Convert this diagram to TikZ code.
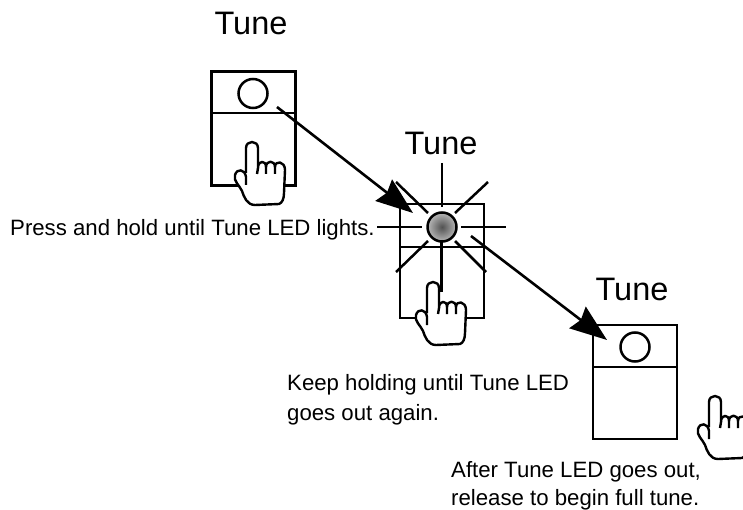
\documentclass[tikz,border=0pt]{standalone}
\usepackage{fontspec}
\setmainfont{Liberation Sans}
\usetikzlibrary{arrows.meta}
\tikzset{
  btn/.style={draw=black,line width=2.5pt,minimum width=84pt,minimum height=114pt,inner sep=0pt,outer sep=0pt},
  led/.style={circle,draw=black,line width=2.5pt,minimum size=29pt,inner sep=0pt,outer sep=0pt},
  divider/.style={line width=2.5pt,black},
  ray/.style={line width=2.5pt,black},
  handline/.style={line width=2.4pt,black,line join=round},
  flow/.style={line width=2.6pt,black,-{Stealth[length=37pt,width=27pt,inset=4pt]}},
  title/.style={font=\fontsize{32.5}{32.5}\selectfont,anchor=base,inner sep=0pt,text=black},
  note/.style={font=\fontsize{22.2}{22.2}\selectfont,anchor=base west,inner sep=0pt,text=black},
}
\newcommand{\handshape}[1]{%
\begin{scope}[shift={#1}]
\filldraw[handline,fill=white]
  (-6,30) -- (-6,5) .. controls (-6,-3) and (6,-3) .. (6,5) -- (6,25)
  .. controls (6,17) and (14,17) .. (14,24)
  .. controls (14,17) and (23,17) .. (23,24)
  .. controls (23,17) and (33,18) .. (33,27)
  -- (32,50) .. controls (32,56) and (30,60) .. (27,61)
  -- (3,62) .. controls (-5,62) and (-8,54) .. (-10,48)
  .. controls (-12,43) and (-19,38) .. (-17,32)
  .. controls (-15,25) and (-7,26) .. (-6,34) -- (-6,42);
\draw[handline] (6,25) -- (5,31) (14,24) -- (14,31) (23,24) -- (23,31);
\end{scope}}
\begin{document}
\begin{tikzpicture}[x=1pt,y=-1pt]
\useasboundingbox (0,0) rectangle (743,510);
\clip (0,0) rectangle (743,510);

\node[title] (t1) at (251,35) {Tune};
\node[title] (t2) at (441,154.5) {Tune};
\node[title] (t3) at (632,300) {Tune};

\node[btn] (b1) at (253.5,128.5) {};
\node[btn] (b2) at (442,261) {};
\node[btn] (b3) at (635,382) {};
\coordinate (d1l) at (211.5,113); \coordinate (d1r) at (295.5,113);
\coordinate (d2l) at (400,247);   \coordinate (d2r) at (484,247);
\coordinate (d3l) at (593,367);   \coordinate (d3r) at (677,367);
\draw[divider] (d1l) -- (d1r);
\draw[divider] (d2l) -- (d2r);
\draw[divider] (d3l) -- (d3r);

\node[led,fill=white] (l1) at (253,93.5) {};
\node[led,inner color=black!68,outer color=black!28] (l2) at (442,227) {};
\node[led,fill=white] (l3) at (635,347) {};

\foreach \a/\b/\c/\d in {442/163/442/207, 441.5/240/441.5/292, 377/227/422/227, 461/227/506/227,
  396/182/428/213, 488/182/455/213, 396/272/428/241, 486/272/455/241}
  \draw[ray] (\a,\b) -- (\c,\d);

\handshape{(252,143)}
\handshape{(433,283)}
\handshape{(715,397)}

\coordinate (a1s) at (277,107); \coordinate (a1e) at (413,213);
\coordinate (a2s) at (471,236); \coordinate (a2e) at (607,340);
\draw[flow] (a1s) -- (a1e);
\draw[flow] (a2s) -- (a2e);

\node[note] (n1) at (10,236) {Press and hold until Tune LED lights.};
\node[note] (n2) at (287,390) {Keep holding until Tune LED};
\node[note] (n3) at (287,420) {goes out again.};
\node[note] (n4) at (451,477) {After Tune LED goes out,};
\node[note] (n5) at (451,505) {release to begin full tune.};
\end{tikzpicture}
\end{document}
